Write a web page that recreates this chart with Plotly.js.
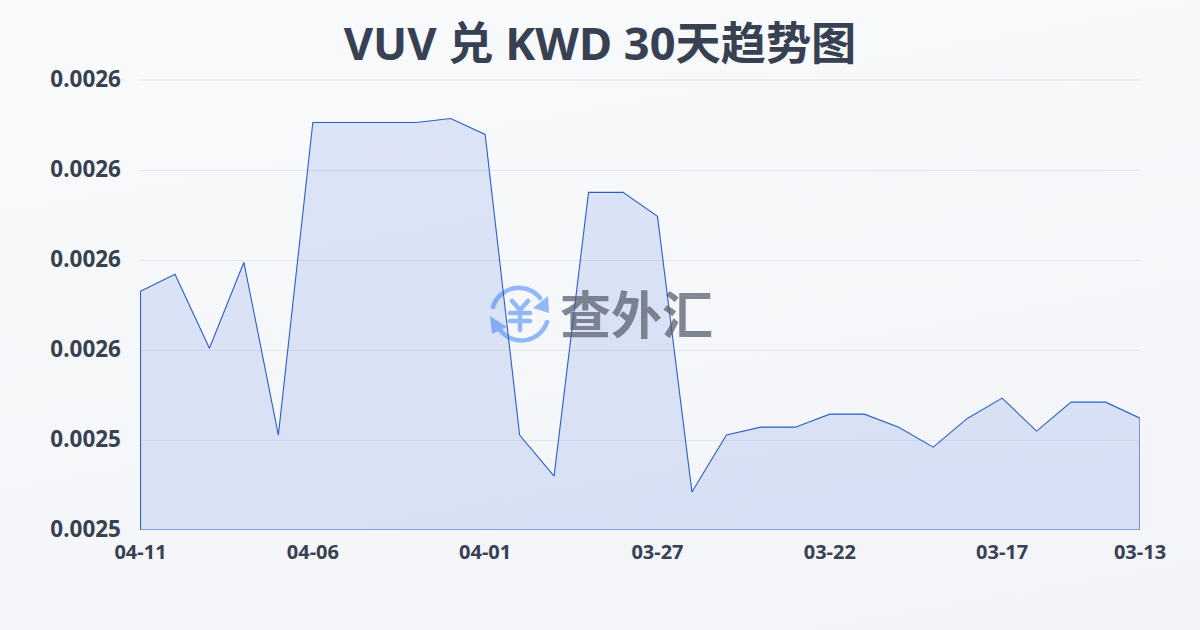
<!DOCTYPE html>
<html><head><meta charset="utf-8">
<script src="https://cdn.plot.ly/plotly-3.0.1.min.js"></script>
<style>html,body{margin:0;padding:0;width:1200px;height:630px;overflow:hidden;background:linear-gradient(170deg,#f9fafc 0%,#f2f4f7 100%)}#c{width:1200px;height:630px}</style>
</head><body><div id="c"></div>
<script>
const dates=["04-11","04-10","04-09","04-08","04-07","04-06","04-05","04-04","04-03","04-02","04-01","03-31","03-30","03-29","03-28","03-27","03-26","03-25","03-24","03-23","03-22","03-21","03-20","03-19","03-18","03-17","03-16","03-15","03-14","03-13"];
const rates=[0.00256656,0.00256844,0.00256022,0.00256978,0.00255056,0.00258533,0.00258533,0.00258533,0.00258533,0.00258578,0.002584,0.00255056,0.002546,0.00257756,0.00257756,0.00257489,0.00254422,0.00255056,0.00255144,0.00255144,0.00255289,0.00255289,0.00255144,0.00254922,0.00255244,0.00255467,0.002551,0.00255422,0.00255422,0.00255244];
const xTicks=["04-11","04-06","04-01","03-27","03-22","03-17","03-13"];
const yTickVals=[0.00254,0.00255,0.00256,0.00257,0.00258,0.00259];
const yTickText=["0.0025","0.0025","0.0026","0.0026","0.0026","0.0026"];
const baseline=yTickVals[0];
const idx=d=>dates.indexOf(d);
const font='"Noto Sans","Noto Sans CJK SC",sans-serif';
const ink='#374151';
const halfPxX=0.5*(dates.length-1)/1000, halfPxY=0.5*(yTickVals[5]-yTickVals[0])/450;
const icon='data:image/svg+xml;utf8,'+encodeURIComponent('<svg xmlns="http://www.w3.org/2000/svg" viewBox="0 0 62 62"><g fill="none" stroke="#93b8f8" stroke-linecap="round" stroke-width="4.5"><path d="M5 22A27 27 0 0 1 52 13"/><path d="M59 37A27 27 0 0 1 12 45"/><path d="M24 16L32 25L40 16M22 28H42M22 36H42M32 25V45"/></g><path d="M60 11L61 28L45 23Z" fill="#93b8f8"/><path d="M2 31L4 49L19 42Z" fill="#93b8f8"/></svg>');
const trace={type:'scatter',mode:'lines',
 x:dates.map((d,i)=>i).concat([dates.length-1,0,0]),
 y:rates.concat([baseline,baseline,rates[0]]),
 fill:'toself',fillcolor:'rgba(59,110,220,0.15)',
 line:{color:'#2a5fcb',width:1.1,shape:'linear'},cliponaxis:false,hoverinfo:'skip'};
const layout={width:1200,height:630,paper_bgcolor:'rgba(0,0,0,0)',plot_bgcolor:'rgba(0,0,0,0)',showlegend:false,
 margin:{l:140,r:59.5,t:80,b:99.5},
 title:{text:'VUV 兑 KWD 30天趋势图',x:0.5,xanchor:'center',y:0.93,yanchor:'middle',font:{family:font,size:45.2,color:ink,weight:700}},
 xaxis:{type:'linear',range:[-halfPxX,dates.length-1],tickmode:'array',tickvals:xTicks.map(idx),ticktext:xTicks,showgrid:false,zeroline:false,showline:false,ticks:'',tickfont:{family:font,size:20,color:ink,weight:700},ticklabelstandoff:8},
 yaxis:{range:[yTickVals[0],yTickVals[5]+halfPxY],tickmode:'array',tickvals:yTickVals,ticktext:yTickText,showgrid:true,gridcolor:'#e3e6ec',gridwidth:1,zeroline:false,showline:false,ticks:'',tickfont:{family:font,size:22.5,color:ink,weight:700},ticklabelstandoff:18,ticklabelshift:-1},
 shapes:[{type:'line',xref:'paper',x0:0,x1:1,yref:'paper',y0:1,y1:1,line:{color:'#e3e6ec',width:1},layer:'below'}],
 images:[{source:icon,xref:'paper',yref:'paper',x:(488-140)/1000,y:(530-285)/450,sizex:62/1000,sizey:62/450,xanchor:'left',yanchor:'top',layer:'below'}],
 annotations:[{text:'查外汇',xref:'paper',yref:'paper',x:(636-140)/1000,y:(530-314)/450,xanchor:'center',yanchor:'middle',showarrow:false,font:{family:font,size:51,color:'rgba(85,92,106,0.72)',weight:700}}]
};
Plotly.newPlot('c',[trace],layout,{displayModeBar:false,staticPlot:true});
</script></body></html>
